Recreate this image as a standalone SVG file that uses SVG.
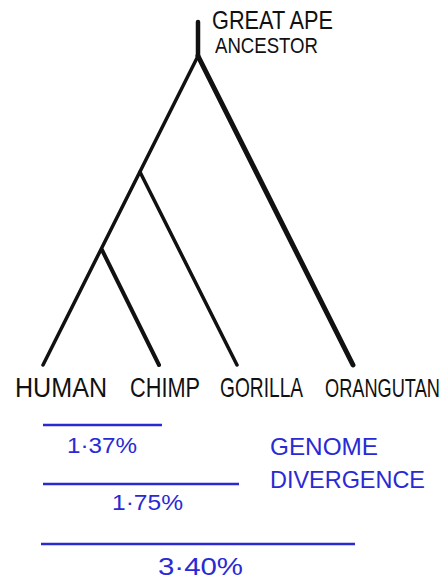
<svg xmlns="http://www.w3.org/2000/svg" width="448" height="580" viewBox="0 0 448 580">
<style>
.lbl{font-family:"Liberation Sans","DejaVu Sans",sans-serif;fill:#111;}
.blue{font-family:"Liberation Sans","DejaVu Sans",sans-serif;fill:#2a2ad4;}
.br{stroke:#111;stroke-linecap:round;fill:none;stroke-width:3.5;}
.bl{stroke:#2a2ad4;stroke-width:2.5;fill:none;}
</style>
<rect width="448" height="580" fill="#fff"/>
<g id="connectors">
<line class="br" x1="198" y1="22" x2="198" y2="56" style="stroke-width:4.5"/>
<line class="br" x1="198" y1="56" x2="43" y2="365"/>
<line class="br" x1="198" y1="56" x2="353" y2="365" style="stroke-width:5"/>
<line class="br" x1="140" y1="172" x2="237" y2="365"/>
<line class="br" x1="102" y1="250" x2="159" y2="365" style="stroke-width:4"/>
</g>
<g id="ancestor"><text class="lbl" x="212" y="29" font-size="25" textLength="121" lengthAdjust="spacingAndGlyphs">GREAT APE</text>
<text class="lbl" x="215" y="53" font-size="22" textLength="103" lengthAdjust="spacingAndGlyphs">ANCESTOR</text></g>
<g id="human"><text class="lbl" x="15" y="397" font-size="27" textLength="92" lengthAdjust="spacingAndGlyphs">HUMAN</text></g>
<g id="chimp"><text class="lbl" x="130" y="397" font-size="27" textLength="70" lengthAdjust="spacingAndGlyphs">CHIMP</text></g>
<g id="gorilla"><text class="lbl" transform="translate(220,397) scale(0.71,1)" font-size="27">GORILLA</text></g>
<g id="orangutan"><text class="lbl" transform="translate(325,397) scale(0.7,1)" font-size="26">ORANGUTAN</text></g>
<g id="divergence">
<line class="bl" x1="43" y1="425" x2="162" y2="425"/>
<line class="bl" x1="43" y1="484" x2="239" y2="484"/>
<line class="bl" x1="41" y1="544" x2="355" y2="544"/>
<text class="blue" x="67" y="453" font-size="22" textLength="70" lengthAdjust="spacingAndGlyphs">1·37%</text>
<text class="blue" x="112" y="510" font-size="22" textLength="71" lengthAdjust="spacingAndGlyphs">1·75%</text>
<text class="blue" x="158" y="575" font-size="24" textLength="85" lengthAdjust="spacingAndGlyphs">3·40%</text>
<text class="blue" x="270" y="455" font-size="24" textLength="108" lengthAdjust="spacingAndGlyphs">GENOME</text>
<text class="blue" x="270" y="488" font-size="24" textLength="155" lengthAdjust="spacingAndGlyphs">DIVERGENCE</text>
</g>
</svg>
